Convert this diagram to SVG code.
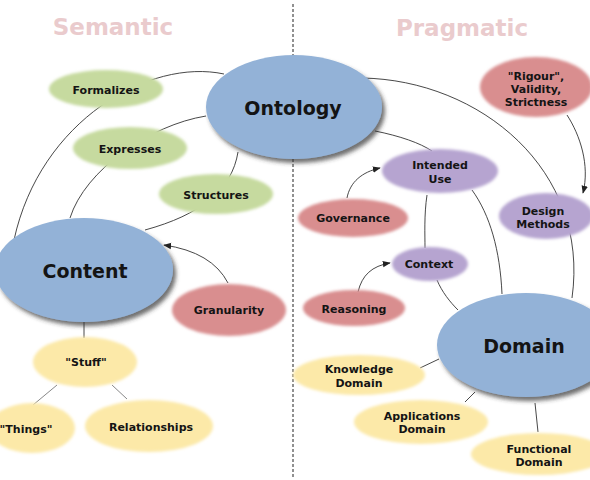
<svg xmlns="http://www.w3.org/2000/svg" width="590" height="480" viewBox="0 0 590 480">
<defs>
<style>
.t{font-family:"DejaVu Sans",Verdana,sans-serif;font-weight:bold;fill:#141414;text-anchor:middle;dominant-baseline:central}
.s{font-size:11px}
.b{font-size:19px}
.h{font-size:23px;fill:#eacbcd}
.big{fill:#93b2d7}
.g{fill:#c6da9f}
.r{fill:#d98e8f}
.p{fill:#b6a4d0}
.y{fill:#fce9a8}
.c{fill:none;stroke:#333;stroke-width:0.9}
.cg{fill:none;stroke:#888;stroke-width:1}
</style>
<filter id="soft" x="-20%" y="-30%" width="140%" height="160%"><feGaussianBlur stdDeviation="1.8"/></filter>
<filter id="shadow" x="-20%" y="-20%" width="150%" height="150%"><feDropShadow dx="3" dy="4" stdDeviation="2" flood-color="#333" flood-opacity="0.7"/></filter>
<marker id="arr" viewBox="0 0 10 10" refX="9" refY="5" markerWidth="8" markerHeight="8" orient="auto" markerUnits="userSpaceOnUse"><path d="M0,1 L10,5 L0,9 Z" fill="#222"/></marker>
</defs>
<rect width="590" height="480" fill="#fff"/>
<line x1="293" y1="4" x2="293" y2="478" stroke="#222" stroke-width="1" stroke-dasharray="3,2"/>
<text class="t h" x="113" y="27">Semantic</text>
<text class="t h" x="462" y="28">Pragmatic</text>
<g id="connectors">
<path class="c" d="M224 74 C150 58 40 120 14 240"/>
<path class="c" d="M206 116 C150 125 85 170 70 218"/>
<path class="c" d="M238 152 C232 190 200 215 145 230"/>
<path class="c" d="M228 283 Q212 252 164 245" marker-end="url(#arr)"/>
<line class="c" x1="84" y1="322" x2="84" y2="338" stroke-width="1.3"/>
<line class="cg" x1="57" y1="385" x2="33" y2="405"/>
<line class="cg" x1="112" y1="385" x2="127" y2="399"/>
<path class="c" d="M362 78 C480 80 590 170 572 298"/>
<path class="c" d="M375 131 C400 136 420 143 432 151"/>
<path class="c" d="M427 195 C424 215 425 235 425 248"/>
<path class="c" d="M472 190 C490 215 500 250 502 294"/>
<path class="c" d="M437 280 C442 292 450 302 458 310"/>
<path class="c" d="M347 198 C350 182 362 172 380 168" marker-end="url(#arr)"/>
<path class="c" d="M358 292 C362 275 372 266 390 263" marker-end="url(#arr)"/>
<path class="c" d="M567 115 C580 135 590 165 583 193" marker-end="url(#arr)"/>
<line class="c" x1="439" y1="359" x2="420" y2="368"/>
<line class="c" x1="475" y1="392" x2="465" y2="402"/>
<line class="c" x1="535" y1="403" x2="538" y2="432"/>
</g>
<g id="ontology"><ellipse class="big" cx="294" cy="107" rx="88" ry="52" filter="url(#shadow)"/><text class="t b" x="293" y="108">Ontology</text></g>
<g id="content"><ellipse class="big" cx="84" cy="270" rx="89" ry="52" filter="url(#shadow)"/><text class="t b" x="85" y="271">Content</text></g>
<g id="domain"><ellipse class="big" cx="526" cy="345" rx="89" ry="52" filter="url(#shadow)"/><text class="t b" x="524" y="346">Domain</text></g>
<g id="formalizes"><ellipse class="g" cx="106" cy="89" rx="57" ry="19" filter="url(#soft)"/><text class="t s" x="106" y="90">Formalizes</text></g>
<g id="expresses"><ellipse class="g" cx="130" cy="148" rx="57" ry="21" filter="url(#soft)"/><text class="t s" x="130" y="149">Expresses</text></g>
<g id="structures"><ellipse class="g" cx="216" cy="194" rx="57" ry="20" filter="url(#soft)"/><text class="t s" x="216" y="195">Structures</text></g>
<g id="granularity"><ellipse class="r" cx="229" cy="310" rx="57" ry="26" filter="url(#soft)"/><text class="t s" x="229" y="310">Granularity</text></g>
<g id="stuff"><ellipse class="y" cx="85" cy="362" rx="52" ry="25" filter="url(#soft)"/><text class="t s" x="86" y="362">"Stuff"</text></g>
<g id="things"><ellipse class="y" cx="32" cy="428" rx="43" ry="25" filter="url(#soft)"/><text class="t s" x="26" y="429">"Things"</text></g>
<g id="relationships"><ellipse class="y" cx="149" cy="426" rx="64" ry="26" filter="url(#soft)"/><text class="t s" x="151" y="427">Relationships</text></g>
<g id="rigour"><ellipse class="r" cx="536" cy="87" rx="56" ry="30" filter="url(#soft)"/><text class="t s" x="536" y="76">"Rigour",</text><text class="t s" x="536" y="89">Validity,</text><text class="t s" x="536" y="102">Strictness</text></g>
<g id="intended-use"><ellipse class="p" cx="440" cy="171" rx="58" ry="22" filter="url(#soft)"/><text class="t s" x="440" y="165">Intended</text><text class="t s" x="440" y="179">Use</text></g>
<g id="governance"><ellipse class="r" cx="353" cy="218" rx="55" ry="19" filter="url(#soft)"/><text class="t s" x="353" y="218">Governance</text></g>
<g id="design-methods"><ellipse class="p" cx="546" cy="216" rx="47" ry="23" filter="url(#soft)"/><text class="t s" x="543" y="211">Design</text><text class="t s" x="543" y="224">Methods</text></g>
<g id="context"><ellipse class="p" cx="430" cy="264" rx="38" ry="17" filter="url(#soft)"/><text class="t s" x="429" y="264">Context</text></g>
<g id="reasoning"><ellipse class="r" cx="354" cy="308" rx="51" ry="18" filter="url(#soft)"/><text class="t s" x="354" y="309">Reasoning</text></g>
<g id="knowledge-domain"><ellipse class="y" cx="359" cy="375" rx="66" ry="20" filter="url(#soft)"/><text class="t s" x="359" y="369">Knowledge</text><text class="t s" x="359" y="383">Domain</text></g>
<g id="applications-domain"><ellipse class="y" cx="421" cy="422" rx="67" ry="22" filter="url(#soft)"/><text class="t s" x="422" y="416">Applications</text><text class="t s" x="422" y="429">Domain</text></g>
<g id="functional-domain"><ellipse class="y" cx="539" cy="454" rx="68" ry="21" filter="url(#soft)"/><text class="t s" x="539" y="449">Functional</text><text class="t s" x="539" y="462">Domain</text></g>
</svg>
